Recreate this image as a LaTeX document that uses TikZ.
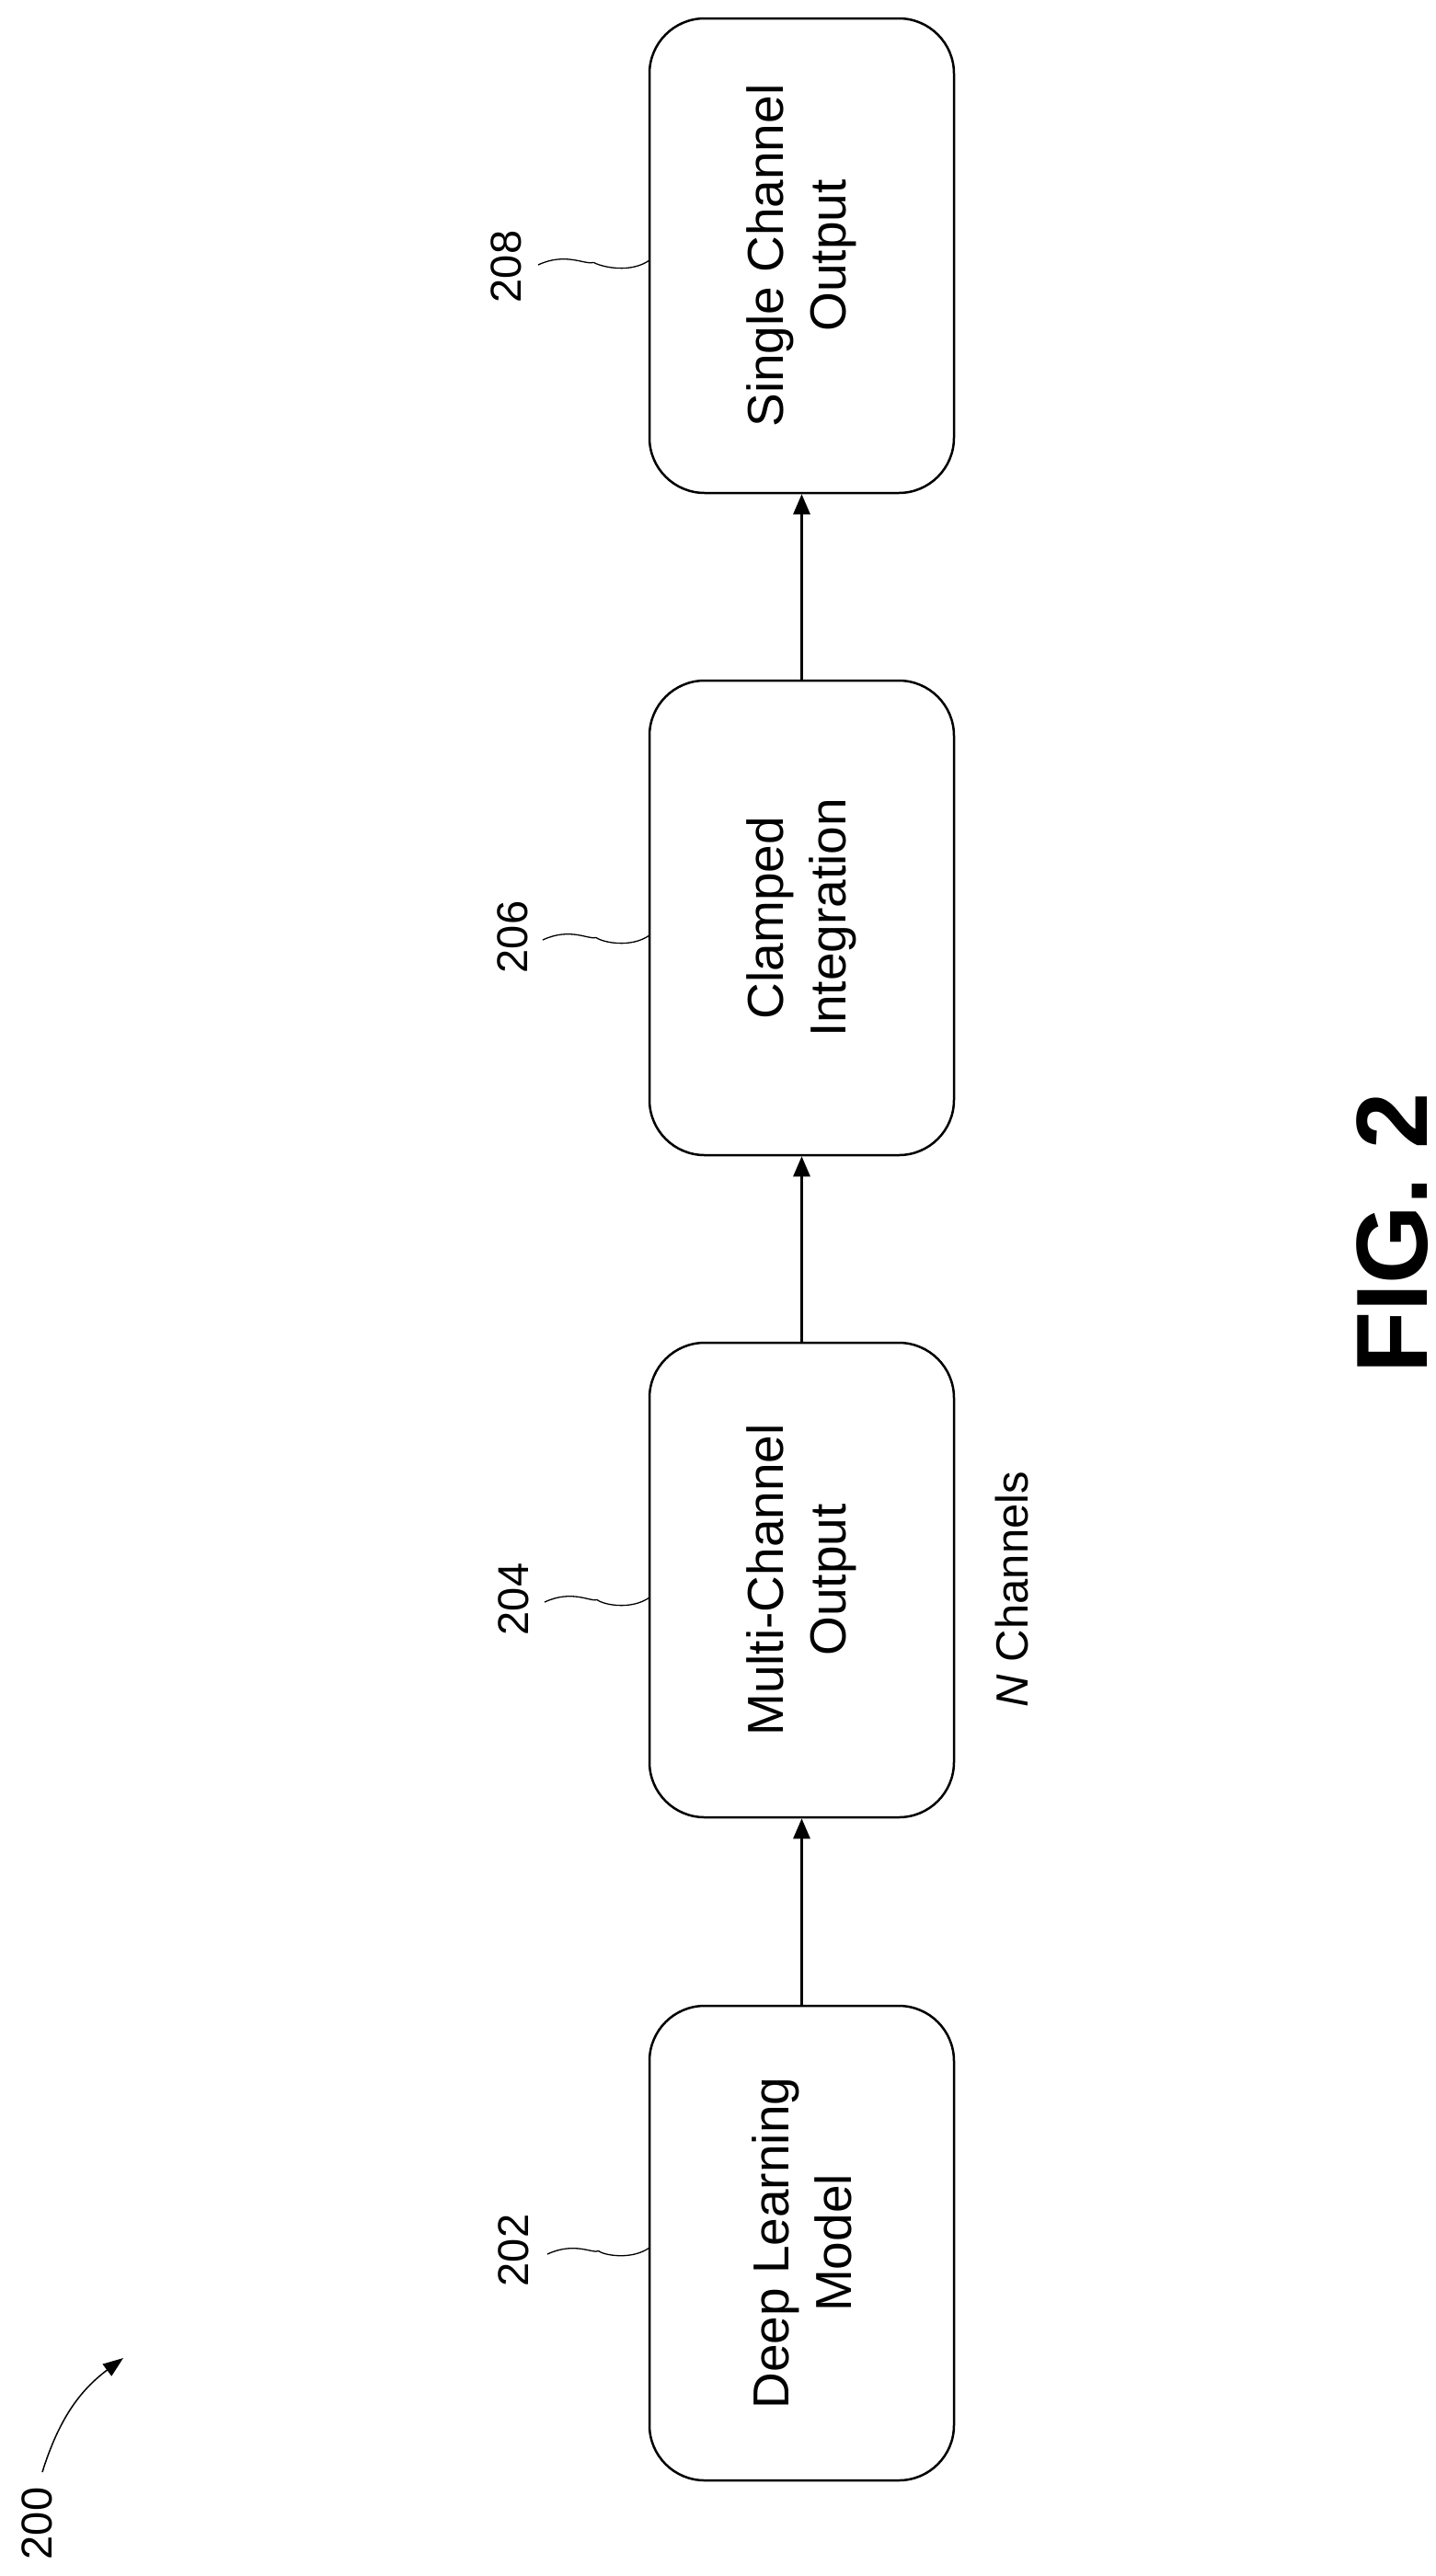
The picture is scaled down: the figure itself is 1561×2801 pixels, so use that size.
\documentclass[tikz,border=0pt]{standalone}
\usepackage{fontspec}
\setmainfont{Liberation Sans}
\usetikzlibrary{arrows.meta,calc}
\begin{document}
\begin{tikzpicture}[x=1pt,y=-1pt,
  blk/.style={draw,line width=2.5pt,rounded corners=60pt,minimum width=516pt,minimum height=331pt,rotate=90,align=center,font=\fontsize{55}{68}\selectfont,inner sep=0pt},
  refnum/.style={rotate=90,font=\fontsize{47}{50}\selectfont,inner sep=0pt},
  flow/.style={line width=3pt,-{Triangle[length=22pt,width=18pt]}},
  sq/.style={line width=1.3pt}]
\useasboundingbox (0,0) rectangle (1561,2801);
\node[blk] (b208) at (871.5,278) {Single Channel\\Output};
\node[blk] (b206) at (871.5,998) {Clamped\\Integration};
\node[blk] (b204) at (871.5,1718) {Multi-Channel\\Output};
\node[blk] (b202) at (871.5,2439) {Deep Learning\\Model};
\draw[flow] (b202.east) -- (b204.west);
\draw[flow] (b204.east) -- (b206.west);
\draw[flow] (b206.east) -- (b208.west);
\node[refnum] (l208) at (550,290) {208};
\node[refnum] (l206) at (557,1019) {206};
\node[refnum] (l204) at (558,1739) {204};
\node[refnum] (l202) at (558,2447) {202};
\coordinate (s208) at (585,288);
\coordinate (s206) at (590,1022);
\coordinate (s204) at (592,1742);
\coordinate (s202) at (595,2451);
\coordinate (e208) at (706,283);
\coordinate (e206) at (706,1017);
\coordinate (e204) at (706,1737);
\coordinate (e202) at (706,2444);
\foreach \n in {208,206,204,202}{
  \draw[sq] (s\n) .. controls ($(s\n)+(30,-14)$) and ($(s\n)+(50,0)$) .. ($(s\n)!0.5!(e\n)$)
     .. controls ($(e\n)+(-50,8)$) and ($(e\n)+(-20,14)$) .. (e\n);
}
\node[rotate=90,font=\fontsize{49}{50}\selectfont,inner sep=0pt] (nch) at (1100,1728) {\textit{N} Channels};
\node[rotate=90,font=\bfseries\fontsize{110}{110}\selectfont,inner sep=0pt] (fig) at (1514,1341) {FIG. 2};
\node[refnum] (l200) at (40,2744) {200};
\coordinate (a200) at (46,2688);
\coordinate (t200) at (134,2564);
\draw[line width=1.5pt,-{Triangle[length=22pt,width=16pt]}] (a200) to[bend left=18] (t200);
\end{tikzpicture}
\end{document}
